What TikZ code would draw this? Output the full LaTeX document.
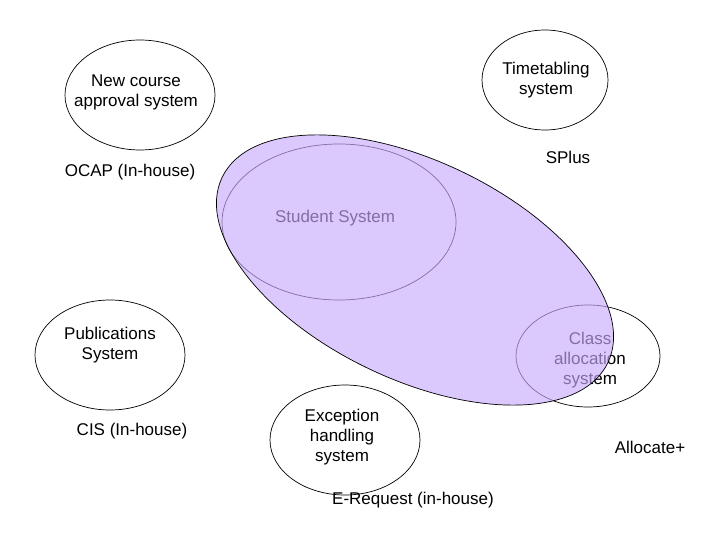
\documentclass[tikz,border=0pt]{standalone}
\usepackage{fontspec}
\setmainfont{Liberation Sans}
\begin{document}
\begin{tikzpicture}[x=1pt,y=-1pt,
  lbl/.style={font=\fontsize{17}{20}\selectfont,align=center,inner sep=0pt}]
\useasboundingbox (0,0) rectangle (720,540);
\draw[line width=0.7pt] (140,95) ellipse [x radius=75,y radius=55];
\draw[line width=0.7pt] (545,80) ellipse [x radius=63,y radius=50];
\draw[line width=0.7pt] (110,355) ellipse [x radius=75,y radius=55];
\draw[line width=0.7pt] (588,356) ellipse [x radius=72,y radius=51];
\draw[line width=0.7pt] (345,440) ellipse [x radius=75,y radius=55];
\draw[line width=0.7pt] (339,222) ellipse [x radius=117,y radius=78];
\node[lbl] (nc) at (136,92) {New course\\approval system};
\node[lbl] (tt) at (546,80) {Timetabling\\system};
\node[lbl] (sp) at (568,157) {SPlus};
\node[lbl] (oc) at (130,172) {OCAP (In-house)};
\node[lbl] (ss) at (335,218) {Student System};
\node[lbl] (ps) at (110,345) {Publications\\System};
\node[lbl] (ca) at (590,360) {Class\\allocation\\system};
\node[lbl] (ci) at (132,431) {CIS (In-house)};
\node[lbl] (ex) at (342,437) {Exception\\handling\\system};
\node[lbl] (al) at (650,447) {Allocate+};
\node[lbl] (er) at (413,500) {E-Request (in-house)};
\fill[fill={rgb,255:red,200;green,170;blue,250},fill opacity=0.65] (415,270) ellipse [x radius=214,y radius=109,rotate=-25.7];
\draw[line width=0.7pt] (415,270) ellipse [x radius=214,y radius=109,rotate=-25.7];
\end{tikzpicture}
\end{document}
